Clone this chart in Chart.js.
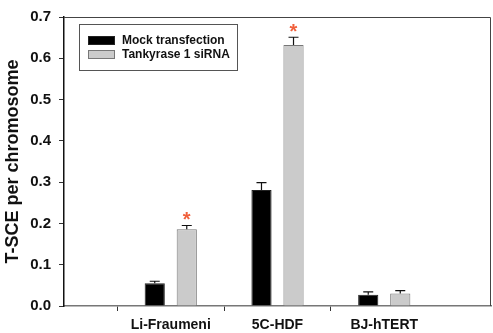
<!DOCTYPE html>
<html>
<head>
<meta charset="utf-8">
<script src="https://cdn.jsdelivr.net/npm/chart.js@4"></script>
<style>
  html, body { margin: 0; padding: 0; background: #fff; }
  #wrap { width: 493px; height: 333px; }
</style>
</head>
<body>
<div id="wrap"><canvas id="tsceChart"></canvas></div>
<script>
// T-SCE per chromosome, mock vs tankyrase 1 siRNA
const categories = ['', 'Li-Fraumeni', '5C-HDF', 'BJ-hTERT', ''];
const mockValues = [null, 0.055, 0.281, 0.027, null];
const mockErrors = [null, 0.005, 0.018, 0.007, null];
const siValues = [null, 0.186, 0.632, 0.030, null];
const siErrors = [null, 0.009, 0.019, 0.007, null];
const siSignificant = [false, true, true, false, false];
const yTicks = [0, 0.1, 0.2, 0.3, 0.4, 0.5, 0.6, 0.7];

const FONT = '"Liberation Sans", Arial, Helvetica, sans-serif';

// error bars (upper half only) and significance stars
const errorBars = {
  id: 'errorBars',
  afterDatasetsDraw(chart) {
    const { ctx } = chart;
    const y = chart.scales.y;
    const sets = [mockErrors, siErrors];
    ctx.save();
    chart.data.datasets.forEach((ds, di) => {
      const meta = chart.getDatasetMeta(di);
      meta.data.forEach((bar, i) => {
        const v = ds.data[i];
        if (v == null) return;
        const top = y.getPixelForValue(v + sets[di][i]);
        ctx.strokeStyle = '#111';
        ctx.lineWidth = 1.2;
        ctx.beginPath();
        ctx.moveTo(bar.x, bar.y);
        ctx.lineTo(bar.x, top);
        ctx.moveTo(bar.x - 5, top);
        ctx.lineTo(bar.x + 5, top);
        ctx.stroke();
        if (di === 1 && siSignificant[i]) {
          ctx.fillStyle = '#f0603c';
          ctx.font = 'bold 20px ' + FONT;
          ctx.textAlign = 'center';
          ctx.textBaseline = 'middle';
          ctx.fillText('*', bar.x, top - 5);
        }
      });
    });
    ctx.restore();
  }
};

// frame on top/right and the boxed legend inside the plot
const frameLegend = {
  id: 'frameLegend',
  afterDraw(chart) {
    const { ctx, chartArea: a } = chart;
    ctx.save();
    ctx.strokeStyle = '#444';
    ctx.lineWidth = 1;
    ctx.beginPath();
    ctx.moveTo(a.left, a.top + 0.5);
    ctx.lineTo(a.right - 0.5, a.top + 0.5);
    ctx.lineTo(a.right - 0.5, a.bottom);
    ctx.stroke();

    // legend box
    ctx.strokeStyle = '#555';
    ctx.strokeRect(79.5, 24.5, 158, 46);
    chart.data.datasets.forEach((ds, i) => {
      const yy = 36 + i * 14;
      ctx.fillStyle = ds.backgroundColor;
      ctx.fillRect(88, yy, 27, 9);
      ctx.strokeStyle = ds.borderColor;
      ctx.strokeRect(88.5, yy + 0.5, 26, 8);
      ctx.fillStyle = '#111';
      ctx.font = 'bold 12px ' + FONT;
      ctx.textBaseline = 'middle';
      ctx.textAlign = 'left';
      ctx.fillText(ds.label, 122, yy + 5);
    });
    ctx.restore();
  }
};

new Chart(document.getElementById('tsceChart'), {
  type: 'bar',
  data: {
    labels: categories,
    datasets: [{
      label: 'Mock transfection',
      data: mockValues,
      backgroundColor: '#000000',
      borderColor: '#222222',
      borderWidth: 1,
      categoryPercentage: 0.6,
      barPercentage: 0.63,
    }, {
      label: 'Tankyrase 1 siRNA',
      data: siValues,
      backgroundColor: '#cbcbcb',
      borderColor: '#777777',
      borderWidth: 1,
      categoryPercentage: 0.6,
      barPercentage: 0.63,
    }]
  },
  options: {
    responsive: true,
    maintainAspectRatio: false,
    animation: false,
    layout: { padding: { top: 7, right: 2, left: 0, bottom: 0 } },
    plugins: {
      legend: { display: false },
      tooltip: { enabled: false }
    },
    scales: {
      x: {
        offset: false,
        afterFit: (s) => {
          s.height = 27;
          s.paddingLeft = 0;
          s.paddingRight = 0;
        },
        grid: {
          drawOnChartArea: false,
          tickLength: 5,
          color: (c) => (c.index === 0 || c.index === categories.length - 1) ? 'rgba(0,0,0,0)' : '#333',
        },
        border: { color: '#777', width: 1.5 },
        ticks: {
          color: '#111',
          font: { family: FONT, size: 14, weight: 'bold' },
          padding: 6,
          maxRotation: 0,
        }
      },
      y: {
        min: 0,
        max: 0.7,
        afterFit: (s) => { s.width = 64; },
        afterBuildTicks: (s) => { s.ticks = yTicks.map(v => ({ value: v })); },
        grid: {
          drawOnChartArea: false,
          tickLength: 5,
          color: '#333',
        },
        border: { color: '#111', width: 1.5 },
        ticks: {
          color: '#111',
          font: { family: FONT, size: 15, weight: 'bold' },
          padding: 8,
          callback: (v) => Number(v).toFixed(1),
        },
        title: {
          display: true,
          text: 'T-SCE per chromosome',
          color: '#111',
          font: { family: FONT, size: 18, weight: 'bold' },
          padding: { top: 2, bottom: 0 },
        }
      }
    }
  },
  plugins: [errorBars, frameLegend]
});
</script>
</body>
</html>
